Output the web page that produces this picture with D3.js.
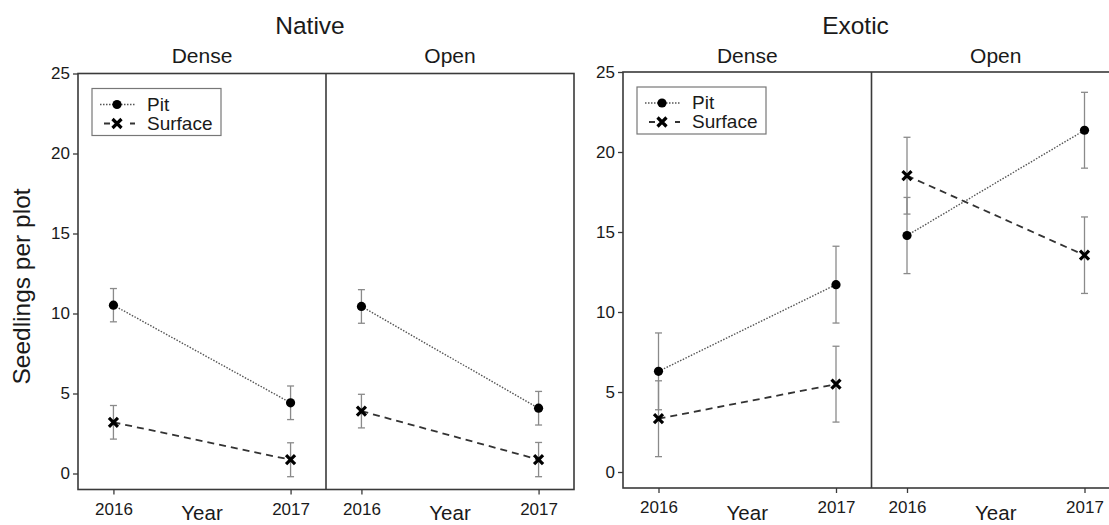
<!DOCTYPE html>
<html>
<head>
<meta charset="utf-8">
<script src="https://cdn.jsdelivr.net/npm/d3@7"></script>
<style>
  html, body { margin: 0; padding: 0; background: #fff; }
  svg { display: block; }
  text { font-family: "Liberation Sans", Arial, sans-serif; fill: #1a1a1a; }
</style>
</head>
<body>
<svg id="chart" width="1109" height="525"></svg>
<script>
// Seedling counts per plot (mean ± SE) by origin, canopy and year
const origins = ["Native", "Exotic"];
const canopies = ["Dense", "Open"];
const years = ["2016", "2017"];
const yTicks = [0, 5, 10, 15, 20, 25];
const seriesNames = ["Pit", "Surface"];

// one row per panel: Native-Dense, Native-Open, Exotic-Dense, Exotic-Open
const pitMean = [[10.52, 4.42], [10.44, 4.08], [6.29, 11.71], [14.78, 21.36]];
const pitSE = [[1.04, 1.05], [1.05, 1.05], [2.4, 2.4], [2.38, 2.37]];
const surfaceMean = [[3.2, 0.86], [3.9, 0.87], [3.33, 5.49], [18.52, 13.55]];
const surfaceSE = [[1.05, 1.06], [1.05, 1.07], [2.37, 2.37], [2.4, 2.39]];

const svg = d3.select("#chart");

// figure frames for the two origins
const frames = [
  { left: 78, right: 574, top: 73.5, bottom: 489.5, yTitle: true },
  { left: 623, right: 1120, top: 72, bottom: 488, yTitle: false }
];

const axisColor = "#3a3a3a";

frames.forEach((f, gi) => {
  const g = svg.append("g");
  const panelW = (f.right - f.left) / canopies.length;

  const y = d3.scaleLinear().domain([-1, 25]).range([f.bottom, f.top]);

  // y axis
  const yAxis = d3.axisLeft(y).tickValues(yTicks).tickSize(5).tickPadding(3).tickSizeOuter(0);
  const ya = g.append("g").attr("transform", `translate(${f.left},0)`).call(yAxis);
  ya.select(".domain").remove();
  ya.selectAll("line").attr("stroke", axisColor).attr("stroke-width", 1.3);
  ya.selectAll("text").style("font-size", "17px").attr("fill", "#1a1a1a");

  // origin title
  g.append("text")
    .attr("x", (f.left + f.right) / 2 - 16)
    .attr("y", 34)
    .attr("text-anchor", "middle")
    .style("font-size", "24.5px")
    .text(origins[gi]);

  canopies.forEach((c, ci) => {
    const pi = gi * 2 + ci;
    const x0 = f.left + ci * panelW;
    const x = d3.scalePoint().domain(years).range([x0, x0 + panelW]).padding(0.2);

    // x axis
    const xAxis = d3.axisBottom(x).tickSize(5).tickPadding(8).tickSizeOuter(0);
    const xa = g.append("g").attr("transform", `translate(0,${f.bottom})`).call(xAxis);
    xa.select(".domain").remove();
    xa.selectAll("line").attr("stroke", axisColor).attr("stroke-width", 1.3);
    xa.selectAll("text").style("font-size", "17px").attr("fill", "#1a1a1a");

    // canopy title and x title
    g.append("text")
      .attr("x", x0 + panelW / 2)
      .attr("y", 63)
      .attr("text-anchor", "middle")
      .style("font-size", "21px")
      .text(c);
    g.append("text")
      .attr("x", x0 + panelW / 2)
      .attr("y", 520)
      .attr("text-anchor", "middle")
      .style("font-size", "20.5px")
      .text("Year");

    const series = [
      { name: "Pit", mean: pitMean[pi], se: pitSE[pi] },
      { name: "Surface", mean: surfaceMean[pi], se: surfaceSE[pi] }
    ];

    // error bars
    series.forEach(s => {
      years.forEach((yr, i) => {
        const cx = x(yr);
        const lo = y(s.mean[i] - s.se[i]);
        const hi = y(s.mean[i] + s.se[i]);
        const eb = g.append("g").attr("stroke", "#8a8a8a").attr("stroke-width", 1.3);
        eb.append("line").attr("x1", cx).attr("x2", cx).attr("y1", lo).attr("y2", hi);
        eb.append("line").attr("x1", cx - 3.5).attr("x2", cx + 3.5).attr("y1", lo).attr("y2", lo);
        eb.append("line").attr("x1", cx - 3.5).attr("x2", cx + 3.5).attr("y1", hi).attr("y2", hi);
      });
    });

    // connecting lines
    const line = d3.line().x((d, i) => x(years[i])).y(d => y(d));
    g.append("path")
      .datum(series[0].mean)
      .attr("d", line)
      .attr("fill", "none")
      .attr("stroke", "#555")
      .attr("stroke-width", 1.4)
      .attr("stroke-dasharray", "1.5,1.5");
    g.append("path")
      .datum(series[1].mean)
      .attr("d", line)
      .attr("fill", "none")
      .attr("stroke", "#333")
      .attr("stroke-width", 1.8)
      .attr("stroke-dasharray", "7,5");

    // markers
    series[0].mean.forEach((v, i) => {
      g.append("circle").attr("cx", x(years[i])).attr("cy", y(v)).attr("r", 4.6).attr("fill", "#000");
    });
    series[1].mean.forEach((v, i) => {
      drawCross(g, x(years[i]), y(v));
    });
  });

  // frame: left, top, bottom, right and panel divider
  const fr = g.append("g").attr("stroke", axisColor).attr("stroke-width", 1.6).attr("fill", "none");
  fr.append("rect")
    .attr("x", f.left).attr("y", f.top)
    .attr("width", f.right - f.left).attr("height", f.bottom - f.top);
  fr.append("line")
    .attr("x1", f.left + panelW).attr("x2", f.left + panelW)
    .attr("y1", f.top).attr("y2", f.bottom);

  // y title
  if (f.yTitle) {
    g.append("text")
      .attr("transform", `translate(30,${(f.top + f.bottom) / 2 + 5}) rotate(-90)`)
      .attr("text-anchor", "middle")
      .style("font-size", "24.5px")
      .text("Seedlings per plot");
  }

  // legend
  const lx = f.left + 14, ly = f.top + 15;
  const lg = g.append("g").attr("transform", `translate(${lx},${ly})`);
  lg.append("rect")
    .attr("width", 129).attr("height", 47)
    .attr("fill", "#fff").attr("stroke", "#777").attr("stroke-width", 1.2);
  // Pit entry
  lg.append("line").attr("x1", 8).attr("x2", 43).attr("y1", 16).attr("y2", 16)
    .attr("stroke", "#555").attr("stroke-width", 1.4).attr("stroke-dasharray", "1.5,1.5");
  lg.append("circle").attr("cx", 25).attr("cy", 16).attr("r", 4.6).attr("fill", "#000");
  lg.append("text").attr("x", 55).attr("y", 22).style("font-size", "19px").text(seriesNames[0]);
  // Surface entry
  lg.append("line").attr("x1", 12).attr("x2", 43).attr("y1", 35).attr("y2", 35)
    .attr("stroke", "#333").attr("stroke-width", 1.8).attr("stroke-dasharray", "6,20,5");
  drawCross(lg, 25, 35);
  lg.append("text").attr("x", 55).attr("y", 41).style("font-size", "19px").text(seriesNames[1]);
});

function drawCross(sel, cx, cy) {
  const s = 4.5;
  sel.append("path")
    .attr("d", `M${cx - s},${cy - s}L${cx + s},${cy + s}M${cx - s},${cy + s}L${cx + s},${cy - s}`)
    .attr("stroke", "#000")
    .attr("stroke-width", 3.2)
    .attr("fill", "none");
}
</script>
</body>
</html>
